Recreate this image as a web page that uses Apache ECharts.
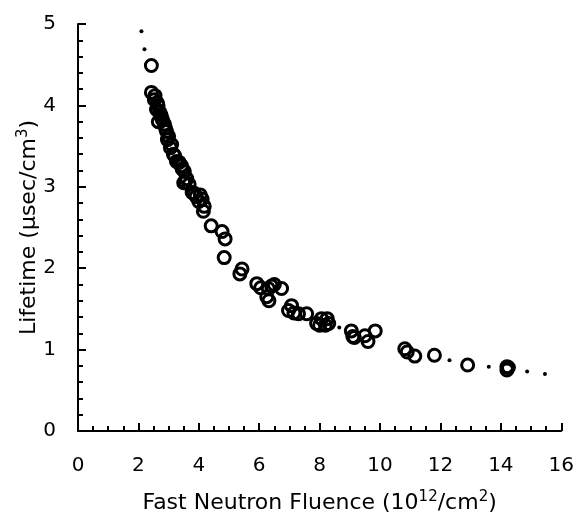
<!DOCTYPE html>
<html>
<head>
    <script src="https://cdn.jsdelivr.net/npm/echarts@6.0.0/dist/echarts.min.js"></script>
    <style>
        html, body { margin: 0; padding: 0; background: #fff; }
        #chart { width: 577px; height: 519px; }
    </style>
</head>
<body>
    <div id="chart"></div>
    <script>
        // measured points (fluence 1e12/cm2, lifetime usec/cm3)
        const fluence = [2.43, 2.43, 2.53, 2.63, 2.60, 2.70, 2.76, 2.66, 2.86, 2.93, 2.96, 3.06, 3.16, 3.26,
            3.42, 3.52, 3.55, 3.68, 3.78, 3.91, 4.11, 4.18, 4.41, 4.77, 4.87, 4.84, 5.43, 5.36, 5.92,
            6.41, 6.74, 6.25, 6.32, 7.07, 6.97, 7.57, 8.06, 8.19, 7.90, 9.05, 9.50, 9.10, 9.84,
            10.82, 11.15, 11.80, 12.90, 14.20, 14.20,
            2.55, 2.65, 2.75, 2.80, 2.90, 3.00, 3.10, 3.20, 3.35, 3.45, 3.60, 3.50, 3.85, 4.00, 4.05, 4.15,
            6.50, 6.30, 6.05, 7.15, 7.30, 8.25, 8.30, 8.00, 9.15, 9.60, 10.90, 14.25];
        const lifetime = [4.49, 4.16, 4.07, 4.03, 3.95, 3.92, 3.85, 3.80, 3.77, 3.68, 3.58, 3.48, 3.40, 3.31,
            3.26, 3.19, 3.06, 3.03, 2.93, 2.88, 2.85, 2.76, 2.52, 2.45, 2.36, 2.13, 1.99, 1.93, 1.81,
            1.78, 1.75, 1.65, 1.60, 1.54, 1.48, 1.44, 1.38, 1.30, 1.32, 1.23, 1.17, 1.16, 1.23,
            1.01, 0.92, 0.93, 0.81, 0.79, 0.75,
            4.12, 4.00, 3.88, 3.82, 3.72, 3.62, 3.52, 3.38, 3.30, 3.22, 3.10, 3.05, 2.92, 2.82, 2.90, 2.70,
            1.80, 1.75, 1.76, 1.45, 1.44, 1.38, 1.32, 1.30, 1.15, 1.10, 0.97, 0.78];
        // small dots of the fitted curve
        const fitX = [2.10, 2.20, 8.65, 12.30, 13.60, 14.87, 15.46];
        const fitY = [4.91, 4.69, 1.27, 0.87, 0.79, 0.73, 0.70];

        const fontName = 'DejaVu Sans';
        const chart = echarts.init(document.getElementById('chart'));
        chart.setOption({
            backgroundColor: '#fff',
            animation: false,
            grid: { left: 78, right: 13, top: 24, bottom: 86 },
            xAxis: {
                type: 'value', min: 0, max: 16, interval: 2,
                axisLine: { lineStyle: { color: '#000', width: 2 } },
                axisTick: { inside: true, length: 8, lineStyle: { color: '#000', width: 2 } },
                minorTick: { show: true, splitNumber: 4, length: 5, lineStyle: { color: '#000', width: 2 } },
                splitLine: { show: false },
                axisLabel: { color: '#000', fontSize: 20, fontFamily: fontName, margin: 25 },
                name: 'Fast Neutron Fluence (10{s|12}/cm{s|2})',
                nameLocation: 'middle', nameGap: 59,
                nameTextStyle: {
                    color: '#000', fontSize: 22, fontFamily: fontName,
                    rich: { s: { fontSize: 15, fontFamily: fontName, color: '#000', padding: [0, 0, 11, 0] } }
                }
            },
            yAxis: {
                type: 'value', min: 0, max: 5, interval: 1,
                axisLine: { show: true, lineStyle: { color: '#000', width: 2 } },
                axisTick: { show: true, inside: true, length: 8, lineStyle: { color: '#000', width: 2 } },
                minorTick: { show: true, splitNumber: 5, length: 5, lineStyle: { color: '#000', width: 2 } },
                splitLine: { show: false },
                axisLabel: { color: '#000', fontSize: 20, fontFamily: fontName, margin: 22 },
                name: 'Lifetime (µsec/cm{s|3})',
                nameLocation: 'middle', nameGap: 36, nameRotate: 90,
                nameMoveOverlap: false,
                nameTextStyle: {
                    color: '#000', fontSize: 22, fontFamily: fontName,
                    rich: { s: { fontSize: 15, fontFamily: fontName, color: '#000', padding: [0, 0, 11, 0] } }
                }
            },
            series: [
                {
                    type: 'scatter',
                    data: fitX.map((x, i) => [x, fitY[i]]),
                    symbol: 'circle', symbolSize: 4,
                    itemStyle: { color: '#000', opacity: 1 }
                },
                {
                    type: 'scatter',
                    data: fluence.map((x, i) => [x, lifetime[i]]),
                    symbol: 'circle', symbolSize: 12,
                    itemStyle: { color: 'rgba(255,255,255,0)', borderColor: '#000', borderWidth: 3, opacity: 1 }
                }
            ]
        });
    </script>
</body>
</html>
